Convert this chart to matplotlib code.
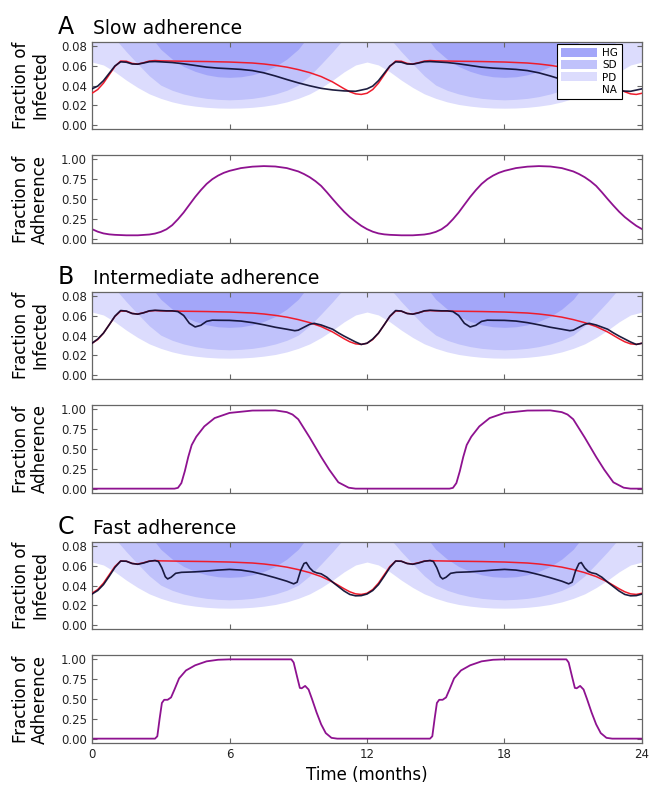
import matplotlib
matplotlib.use("Agg")
import matplotlib.pyplot as plt
from matplotlib.patches import Patch
from matplotlib.ticker import FormatStrFormatter

# --- policy bands (fraction infected thresholds), one year, repeated -------
T_BAND = [0, 0.5, 1, 1.5, 2, 2.5, 3, 3.5, 4, 4.5, 5, 5.5, 6,
          6.5, 7, 7.5, 8, 8.5, 9, 9.5, 10, 10.5, 11, 11.5, 12]
PD_EDGE = [0.064, 0.061, 0.054, 0.0455, 0.038, 0.0316, 0.027, 0.0234, 0.0208,
           0.0191, 0.0179, 0.0172, 0.017, 0.0172, 0.0179, 0.0191, 0.0208,
           0.0234, 0.027, 0.0316, 0.038, 0.0455, 0.054, 0.061, 0.064]
SD_EDGE = [0.105, 0.097, 0.088, 0.0745, 0.062, 0.050, 0.0405, 0.0352, 0.0315,
           0.0288, 0.0270, 0.0260, 0.0255, 0.0260, 0.0270, 0.0288, 0.0315,
           0.0352, 0.0405, 0.050, 0.062, 0.0745, 0.088, 0.097, 0.105]
HG_EDGE = [0.150, 0.140, 0.128, 0.116, 0.104, 0.092, 0.077, 0.067, 0.0595,
           0.0545, 0.0510, 0.0490, 0.0484, 0.0490, 0.0510, 0.0545, 0.0595,
           0.067, 0.077, 0.092, 0.104, 0.116, 0.128, 0.140, 0.150]

# --- fraction infected without adherence (red), one year -------------------
T_BASE = [0, 0.25, 0.5, 0.75, 1.0, 1.25, 1.5, 1.75, 2.0, 2.25, 2.5, 2.75,
          3.0, 3.5, 4.0, 5.0, 6.0, 7.0, 7.5, 8.0, 8.5, 9.0, 9.5, 10.0, 10.5,
          11.0, 11.25, 11.5, 11.75, 12.0]
I_BASE = [0.0322, 0.0360, 0.0425, 0.0510, 0.0595, 0.0650, 0.0648, 0.0626,
          0.0620, 0.0633, 0.0650, 0.0655, 0.0652, 0.0650, 0.0648, 0.0645,
          0.0640, 0.0630, 0.0620, 0.0606, 0.0588, 0.0563, 0.0532, 0.0492,
          0.0437, 0.0368, 0.0337, 0.0316, 0.0310, 0.0322]

# --- fraction infected with adherence (black), one year per scenario -------
T_SLOW = [0, 0.25, 0.5, 0.75, 1.0, 1.25, 1.5, 1.75, 2.0, 2.25, 2.5, 2.75,
          3.0, 3.5, 4.0, 4.5, 5.0, 5.5, 6.0, 6.5, 7.0, 7.5, 8.0, 8.5, 9.0,
          9.5, 10.0, 10.5, 11.0, 11.5, 12.0]
I_SLOW = [0.0367, 0.0395, 0.0450, 0.0525, 0.0600, 0.0642, 0.0638, 0.0620,
          0.0618, 0.0630, 0.0643, 0.0645, 0.0642, 0.0635, 0.0622, 0.0605,
          0.0588, 0.0578, 0.0572, 0.0565, 0.0553, 0.0530, 0.0498, 0.0462,
          0.0428, 0.0398, 0.0372, 0.0356, 0.0346, 0.0342, 0.0367]

T_MID = [0, 0.25, 0.5, 0.75, 1.0, 1.25, 1.5, 1.75, 2.0, 2.25, 2.5, 2.75,
         3.0, 3.25, 3.5, 3.75, 4.0, 4.25, 4.5, 4.75, 5.0, 5.25, 5.5, 6.0,
         6.5, 7.0, 7.5, 8.0, 8.5, 8.85, 9.0, 9.25, 9.5, 9.7, 10.0, 10.5,
         10.75, 11.0, 11.5, 11.75, 12.0]
I_MID = [0.0322, 0.0365, 0.0425, 0.0510, 0.0598, 0.0655, 0.0650, 0.0625,
         0.0618, 0.0632, 0.0652, 0.0658, 0.0655, 0.0652, 0.0652, 0.0645,
         0.0605, 0.0525, 0.0488, 0.0505, 0.0545, 0.0557, 0.0556, 0.0555,
         0.0548, 0.0532, 0.0510, 0.0485, 0.0465, 0.0450, 0.0455, 0.0485,
         0.0515, 0.0525, 0.0508, 0.0465, 0.0428, 0.0395, 0.0335, 0.0310,
         0.0322]

T_FAST = [0, 0.25, 0.5, 0.75, 1.0, 1.25, 1.5, 1.75, 2.0, 2.25, 2.5, 2.75,
          2.9, 3.05, 3.2, 3.3, 3.45, 3.65, 3.9, 4.5, 5.0, 5.5, 6.0, 6.5, 7.0,
          7.5, 8.0, 8.5, 8.8, 8.95, 9.1, 9.25, 9.35, 9.5, 9.65, 9.8, 10.0,
          10.25, 10.5, 10.75, 11.0, 11.25, 11.5, 11.75, 12.0]
I_FAST = [0.0314, 0.0350, 0.0410, 0.0495, 0.0585, 0.0650, 0.0648, 0.0625,
          0.0617, 0.0630, 0.0648, 0.0655, 0.0645, 0.0580, 0.0490, 0.0468,
          0.0485, 0.0525, 0.0535, 0.0540, 0.0548, 0.0558, 0.0565, 0.0558,
          0.0540, 0.0512, 0.0480, 0.0445, 0.0418, 0.0435, 0.0550, 0.0625,
          0.0635, 0.0580, 0.0545, 0.0530, 0.0520, 0.0485, 0.0435, 0.0390,
          0.0345, 0.0310, 0.0296, 0.0298, 0.0314]

# --- fraction of adherence, one year per scenario --------------------------
T_ADH_SLOW = [0, 0.25, 0.5, 0.75, 1.0, 1.5, 2.0, 2.5, 2.75, 3.0, 3.25, 3.5,
              3.75, 4.0, 4.25, 4.5, 4.75, 5.0, 5.25, 5.5, 5.75, 6.0, 6.5, 7.0,
              7.5, 8.0, 8.5, 9.0, 9.25, 9.5, 9.75, 10.0, 10.25, 10.5, 10.75,
              11.0, 11.25, 11.5, 11.75, 12.0]
ADH_SLOW = [0.120, 0.088, 0.066, 0.054, 0.048, 0.042, 0.042, 0.052, 0.064,
            0.085, 0.118, 0.170, 0.245, 0.330, 0.428, 0.525, 0.612, 0.690,
            0.750, 0.795, 0.830, 0.855, 0.890, 0.908, 0.915, 0.910, 0.890,
            0.848, 0.815, 0.775, 0.725, 0.665, 0.585, 0.500, 0.418, 0.340,
            0.272, 0.215, 0.162, 0.120]

T_ADH_MID = [0, 3.6, 3.75, 3.9, 4.05, 4.2, 4.35, 4.55, 4.9, 5.35, 6.0, 7.0,
             8.0, 8.5, 8.75, 9.0, 9.5, 10.0, 10.35, 10.75, 11.2, 11.5, 12.0]
ADH_MID = [0.0, 0.0, 0.010, 0.070, 0.220, 0.400, 0.550, 0.655, 0.785, 0.890,
           0.955, 0.985, 0.987, 0.965, 0.935, 0.875, 0.645, 0.400, 0.240,
           0.080, 0.012, 0.0, 0.0]

T_ADH_FAST = [0, 2.75, 2.85, 2.95, 3.05, 3.15, 3.3, 3.45, 3.6, 3.8, 4.1, 4.5,
              5.0, 5.5, 6.0, 8.7, 8.8, 8.95, 9.07, 9.15, 9.3, 9.45, 9.6, 9.8,
              10.0, 10.2, 10.45, 10.7, 12.0]
ADH_FAST = [0.0, 0.0, 0.030, 0.250, 0.450, 0.490, 0.490, 0.520, 0.620, 0.760,
            0.860, 0.925, 0.975, 0.995, 1.0, 1.0, 0.960, 0.780, 0.640, 0.635,
            0.665, 0.620, 0.500, 0.330, 0.180, 0.070, 0.010, 0.0, 0.0]

PANELS = [("A", "Slow adherence", T_SLOW, I_SLOW, T_ADH_SLOW, ADH_SLOW),
          ("B", "Intermediate adherence", T_MID, I_MID, T_ADH_MID, ADH_MID),
          ("C", "Fast adherence", T_FAST, I_FAST, T_ADH_FAST, ADH_FAST)]

C_HG, C_SD, C_PD = "#a3a6f9", "#c0c2fb", "#dcdcfd"
C_RED, C_BLK, C_PUR = "#ee1c2c", "#0b0b30", "#8e1290"
FRAME = "#666666"

W, H = 660, 787


def two_years(ts, vs):
    """Le profil annuel se repete : annee 1 puis annee 2 (t + 12)."""
    return list(ts) + [t + 12 for t in ts[1:]], list(vs) + list(vs[1:])


def px_axes(top, bottom, left=92, right=642):
    return [left / W, 1 - bottom / H, (right - left) / W, (bottom - top) / H]


def style(ax, yticks, ylim, show_x):
    ax.set_xlim(0, 24)
    ax.set_ylim(*ylim)
    ax.set_xticks([0, 6, 12, 18, 24])
    ax.set_yticks(yticks)
    ax.yaxis.set_major_formatter(FormatStrFormatter("%.2f"))
    ax.tick_params(direction="in", length=3.5, width=0.8, colors=FRAME,
                   labelcolor="#222222", labelsize=8.5, top=True, right=True,
                   labelbottom=show_x)
    for s in ax.spines.values():
        s.set_color(FRAME)
        s.set_linewidth(0.9)


fig = plt.figure(figsize=(W / 100, H / 100), dpi=100)

tb, pd_e = two_years(T_BAND, PD_EDGE)
_, sd_e = two_years(T_BAND, SD_EDGE)
_, hg_e = two_years(T_BAND, HG_EDGE)
tr, ir = two_years(T_BASE, I_BASE)

for k, (letter, name, ti, ii, ta, aa) in enumerate(PANELS):
    off = 250 * k
    ax_i = fig.add_axes(px_axes(42 + off, 129 + off))
    ax_a = fig.add_axes(px_axes(155 + off, 243 + off))

    ax_i.fill_between(tb, pd_e, 0.2, color=C_PD, lw=0)
    ax_i.fill_between(tb, sd_e, 0.2, color=C_SD, lw=0)
    ax_i.fill_between(tb, hg_e, 0.2, color=C_HG, lw=0)
    ax_i.plot(tr, ir, color=C_RED, lw=1.1, zorder=3)
    t2, i2 = two_years(ti, ii)
    ax_i.plot(t2, i2, color=C_BLK, lw=1.2, alpha=0.92, zorder=4)
    style(ax_i, [0, 0.02, 0.04, 0.06, 0.08], (-0.0042, 0.0844), False)
    ax_i.set_ylabel("Fraction of\nInfected", fontsize=12, linespacing=1.05)
    ax_i.yaxis.set_label_coords(-0.078, 0.5)

    t2, a2 = two_years(ta, aa)
    ax_a.plot(t2, a2, color=C_PUR, lw=1.3)
    style(ax_a, [0, 0.25, 0.5, 0.75, 1.0], (-0.055, 1.055), k == 2)
    ax_a.set_ylabel("Fraction of\nAdherence", fontsize=12, linespacing=1.05)
    ax_a.yaxis.set_label_coords(-0.078, 0.5)

    fig.text(58 / W, 1 - (34.5 + off) / H, letter, fontsize=17,
             va="baseline", ha="left")
    fig.text(93 / W, 1 - (34.5 + off) / H, name, fontsize=13.5,
             va="baseline", ha="left")

    if k == 0:
        handles = [Patch(facecolor=C_HG, label="HG"),
                   Patch(facecolor=C_SD, label="SD"),
                   Patch(facecolor=C_PD, label="PD"),
                   Patch(facecolor="white", label="NA")]
        leg = ax_i.legend(handles=handles, loc="upper right",
                          bbox_to_anchor=(0.9636, 0.977), borderaxespad=0,
                          fontsize=7.5, fancybox=False, framealpha=1,
                          handlelength=3.4, handleheight=0.95,
                          labelspacing=0.2, borderpad=0.4, handletextpad=0.5)
        leg.get_frame().set_edgecolor("black")
        leg.get_frame().set_linewidth(0.8)
    if k == 2:
        ax_a.set_xlabel("Time (months)", fontsize=12, labelpad=4)

fig.savefig("out.png", dpi=100)
